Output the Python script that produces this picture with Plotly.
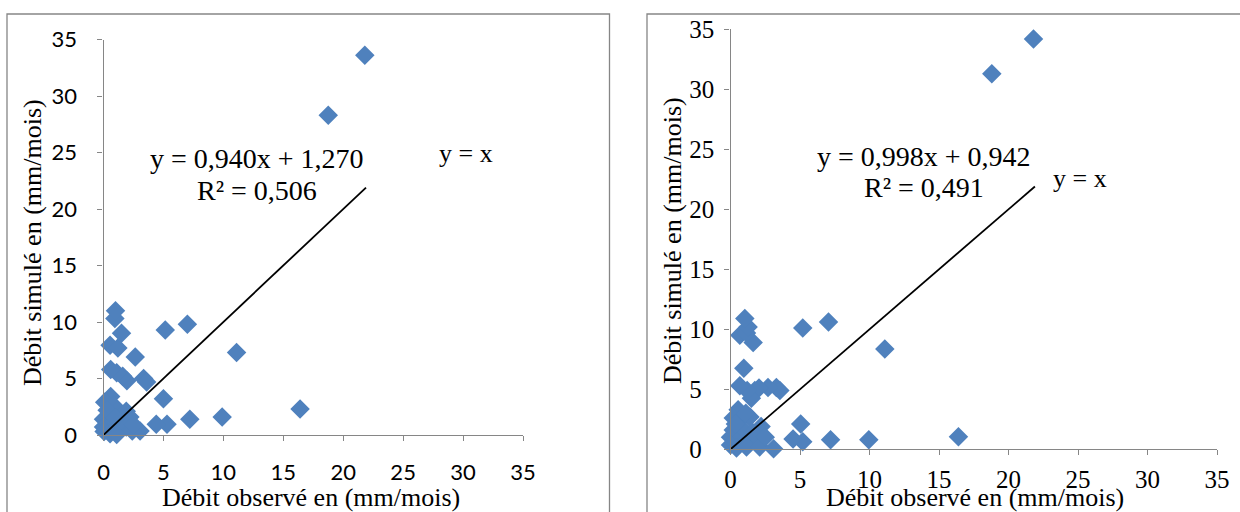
import plotly.graph_objects as go

W, H = 1240, 512

# Model A: observed vs simulated monthly discharge (mm/mois)
obs_a = [21.8, 18.75, 16.4, 11.1, 9.9, 7.0, 7.2, 5.15, 5.0, 5.3, 4.4, 3.05, 3.35, 3.6,
         2.65, 1.95, 1.6, 1.1, 0.6, 0.55, 1.2, 1.5, 0.95, 1.0, 0.6, 0.1, 0.85, 1.2, 1.9,
         2.2, 0.0, 0.0, 0.35, 0.8, 1.4, 1.9, 0.55, 0.05, 1.1, 2.4, 0.5, 1.5, 0.3, 1.0, 2.5]
sim_a = [33.6, 28.3, 2.3, 7.3, 1.6, 9.8, 1.4, 9.3, 3.2, 0.95, 0.95, 0.35, 5.0, 4.7,
         6.9, 4.8, 5.2, 5.5, 5.8, 7.95, 7.7, 9.0, 10.3, 11.0, 3.4, 2.9, 2.6, 2.2, 2.1,
         1.6, 1.4, 0.7, 1.0, 0.6, 0.45, 0.7, 0.1, 0.3, 0.05, 0.35, 1.8, 1.3, 2.2, 1.5, 0.9]

# Model B: observed vs simulated monthly discharge (mm/mois)
obs_b = [21.8, 18.8, 16.4, 11.1, 9.95, 7.05, 7.2, 5.2, 5.05, 5.2, 4.5, 3.1, 3.3, 3.55,
         2.7, 2.05, 1.75, 1.5, 1.2, 0.67, 0.96, 1.63, 0.67, 1.15, 1.27, 1.03, 0.55, 0.2,
         0.67, 1.4, 2.2, 0.2, 0.0, 0.67, 1.4, 2.0, 0.0, 0.43, 1.15, 2.1, 0.9, 1.6, 0.35,
         1.1, 2.5]
sim_b = [34.2, 31.3, 1.05, 8.35, 0.8, 10.6, 0.8, 10.1, 2.1, 0.62, 0.85, 0.05, 5.15, 4.9,
         5.15, 5.1, 4.9, 4.25, 4.9, 5.3, 6.75, 8.9, 9.5, 9.7, 10.2, 10.9, 3.3, 2.6,
         2.45, 2.7, 1.9, 1.6, 1.0, 0.8, 0.9, 0.5, 0.35, 0.1, 0.2, 0.2, 1.7, 1.4, 2.1,
         3.0, 1.0]

# Reference line y = x, drawn up to the largest observed value
ref_x = [0, 21.9]
ref_y = [0, 21.9]

eq_a = ["y = 0,940x + 1,270", "R² = 0,506"]
eq_b = ["y = 0,998x + 0,942", "R² = 0,491"]
ref_label = "y = x"

tick_vals = [0, 5, 10, 15, 20, 25, 30, 35]
tick_text = ["0", "5", "10", "15", "20", "25", "30", "35"]
# right-hand value axis: single digits padded so labels line up on the left
tick_text_b_y = ["0\u2007", "5\u2007", "10", "15", "20", "25", "30", "35"]
x_title = "Débit observé en (mm/mois)"
y_title = "Débit simulé en (mm/mois)"

BLUE = "#4F81BD"
GREY = "#868686"
SERIF = "Liberation Serif, Times New Roman, serif"
SANS = "Lato, Liberation Sans, sans-serif"


def px(x):
    return x / W


def py(y):
    return 1 - y / H


fig = go.Figure()

for obs, sim, xa, ya in [(obs_a, sim_a, "x", "y"), (obs_b, sim_b, "x2", "y2")]:
    fig.add_trace(go.Scatter(
        x=obs, y=sim, mode="markers", xaxis=xa, yaxis=ya,
        marker=dict(symbol="diamond", size=15, color=BLUE, line=dict(width=0)),
        cliponaxis=False, showlegend=False, hoverinfo="x+y"))
    fig.add_trace(go.Scatter(
        x=ref_x, y=ref_y, mode="lines", xaxis=xa, yaxis=ya,
        line=dict(color="black", width=1.8), cliponaxis=False,
        showlegend=False, hoverinfo="skip"))

axis_common = dict(
    range=[0, 35], tickmode="array", tickvals=tick_vals, ticktext=tick_text,
    showgrid=False, zeroline=False, showline=True, linecolor=GREY, linewidth=1.3,
    ticks="outside", ticklen=5, tickcolor=GREY, tickwidth=1.3, fixedrange=True,
    automargin=False,
)

fig.update_layout(
    template="none",
    width=W, height=H, margin=dict(l=0, r=0, t=0, b=0, pad=0), autosize=False,
    paper_bgcolor="white", plot_bgcolor="white",
    xaxis=dict(axis_common, domain=[px(103.5), px(523)], anchor="y",
               tickfont=dict(family=SANS, size=22, color="black"), ticklabelstandoff=12),
    yaxis=dict(axis_common, domain=[py(435), py(39.5)], anchor="x",
               tickfont=dict(family=SANS, size=22, color="black"), ticklabelstandoff=16),
    xaxis2=dict(axis_common, domain=[px(730.5), px(1217)], anchor="y2",
                tickfont=dict(family=SERIF, size=25, color="black"), ticklabelstandoff=3),
    yaxis2=dict(axis_common, domain=[py(449.3), py(29.3)], anchor="x2",
                ticktext=tick_text_b_y,
                tickfont=dict(family=SERIF, size=25, color="black"), ticklabelstandoff=5),
)

# Chart frames
fig.add_shape(type="rect", xref="paper", yref="paper",
              x0=px(7), x1=px(609.5), y0=-0.05, y1=py(14),
              line=dict(color=GREY, width=1.3), layer="below")
fig.add_shape(type="rect", xref="paper", yref="paper",
              x0=px(647), x1=1.05, y0=-0.05, y1=py(14),
              line=dict(color=GREY, width=1.3), layer="below")


def label(text, x, y, size=26, angle=0):
    fig.add_annotation(text=text, x=px(x), y=py(y), xref="paper", yref="paper",
                       showarrow=False, xanchor="center", yanchor="middle",
                       textangle=angle,
                       font=dict(family=SERIF, size=size, color="black"))


# Axis titles
label(x_title, 311, 497)
label(y_title, 32, 243, angle=-90)
label(x_title, 975, 497)
label(y_title, 672, 241, angle=-90)

# Equations and reference-line labels
label(eq_a[0], 257, 158, size=28)
label(eq_a[1], 257, 190, size=28)
label(ref_label, 466, 153)
label(eq_b[0], 924, 156, size=28)
label(eq_b[1], 924, 187, size=28)
label(ref_label, 1080, 178)

fig.write_html("out.html")
